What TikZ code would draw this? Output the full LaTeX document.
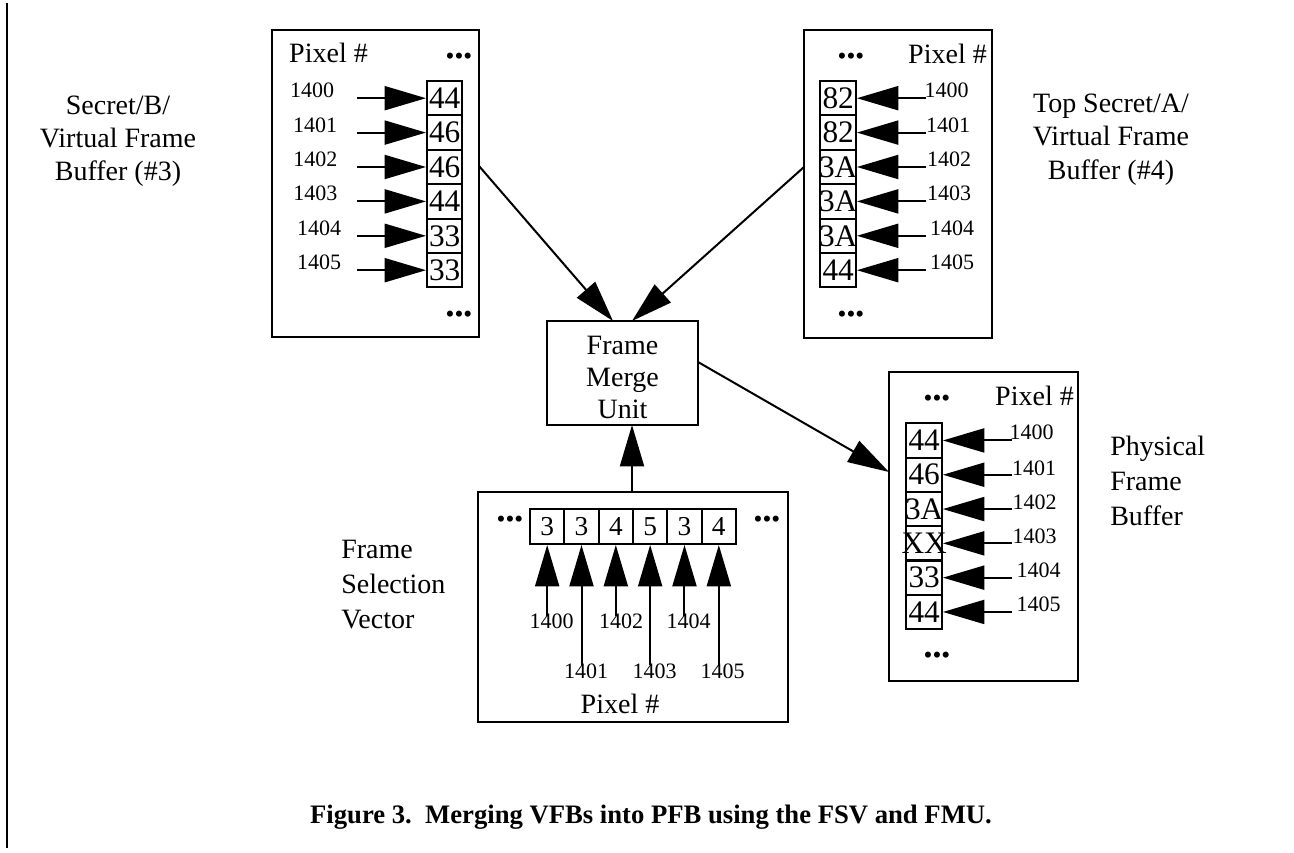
\documentclass[tikz,border=0pt]{standalone}
\usepackage{fontspec}
\setmainfont{Liberation Serif}
\usetikzlibrary{arrows.meta}
\begin{document}
\begin{tikzpicture}[x=0.75pt,y=-0.75pt,
  box/.style={draw,line width=1.5pt,inner sep=0},
  cell/.style={draw,line width=1.5pt,minimum width=26.6pt,minimum height=25.8pt,inner sep=0,font=\fontsize{23.5}{23.5}\selectfont},
  fcell/.style={draw,line width=1.5pt,minimum width=25.75pt,minimum height=26.25pt,inner sep=0,font=\fontsize{20.5}{20.5}\selectfont},
  big/.style={line width=1.5pt,-{Triangle[length=31pt,width=18pt]}},
  num/.style={inner sep=0,font=\fontsize{16.5}{16.5}\selectfont},
  lbl/.style={inner sep=0,font=\fontsize{21}{25}\selectfont,align=center},
  lbll/.style={inner sep=0,font=\fontsize{21}{26.25}\selectfont,align=left},
  txt/.style={inner sep=0,font=\fontsize{21}{21}\selectfont},
  dots/.style={inner sep=0,font=\fontsize{19}{19}\selectfont},
  rule/.style={line width=1.5pt}
]
\useasboundingbox (0,0) rectangle (1294,852);
% left rule
\coordinate (rt) at (7,3);
\coordinate (rb) at (7,848);
\draw[rule] (rt) -- (rb);

% boxes
\node[box,minimum width=155.25pt,minimum height=230.25pt] (vfb3) at (375.5,183.5) {};
\node[box,minimum width=141pt,minimum height=231pt] (vfb4) at (898,184) {};
\node[box,minimum width=113.25pt,minimum height=78pt] (fmu) at (622.5,373) {};
\node[box,minimum width=141.75pt,minimum height=231.75pt] (pfb) at (983.5,526.5) {};
\node[box,minimum width=232.5pt,minimum height=172.5pt] (fsv) at (633,607) {};

% side labels
\node[lbl,anchor=north] (l3) at (118,95.5) {Secret/B/\\Virtual Frame\\Buffer (\#3)};
\node[lbl,anchor=north] (l4) at (1111,93.6) {Top Secret/A/\\Virtual Frame\\Buffer (\#4)};
\node[lbll,anchor=north west] (lp) at (1110,436) {Physical\\Frame\\Buffer};
\node[lbll,anchor=north west] (lf) at (341,539.5) {Frame\\Selection\\Vector};
\node[lbl,anchor=north,font=\fontsize{21}{24}\selectfont] (lm) at (622.5,335.5) {Frame\\Merge\\Unit};

% Pixel # headers and dots
\node[txt,anchor=base] (p3) at (328.5,63) {Pixel \#};
\node[txt,anchor=base] (p4) at (947.5,64) {Pixel \#};
\node[txt,anchor=base] (pp) at (1034.5,405) {Pixel \#};
\node[txt,anchor=base] (pf) at (620,713.5) {Pixel \#};
\node[dots] (d3t) at (459,59) {•••};
\node[dots] (d3b) at (459,317) {•••};
\node[dots] (d4t) at (851,59) {•••};
\node[dots] (d4b) at (851,317) {•••};
\node[dots] (dpt) at (937,401) {•••};
\node[dots] (dpb) at (937,658) {•••};
\node[dots] (dfl) at (510,522) {•••};
\node[dots] (dfr) at (767,522) {•••};

% VFB #3 cells
\foreach \v [count=\i] in {44,46,46,44,33,33} {
  \node[cell] (a\i) at (444.7,{81+34.4*(\i-0.5)}) {\makebox[0pt]{\v}};
  \coordinate (as\i) at (357,{81+34.4*(\i-0.5)});
  \draw[big] (as\i) -- (a\i.west);
}
\foreach \t/\lx/\ly in {1400/312/90,1401/315/125,1402/315.3/159.7,1403/315.3/193.3,1404/319/228.3,1405/319/262} {
  \node[num] (an\t) at (\lx,\ly) {\t};
}

% VFB #4 cells
\foreach \v [count=\i] in {82,82,3A,3A,3A,44} {
  \node[cell] (b\i) at (838.2,{81+34.4*(\i-0.5)}) {\makebox[0pt]{\v}};
  \coordinate (bs\i) at (926,{81+34.4*(\i-0.5)});
  \draw[big] (bs\i) -- (b\i.east);
}
\foreach \t/\lx/\ly in {1400/946.5/90,1401/948/125,1402/949/159.5,1403/949/193,1404/952/228,1405/952/262} {
  \node[num] (bn\t) at (\lx,\ly) {\t};
}

% PFB cells
\foreach \v [count=\i] in {44,46,3A,XX,33,44} {
  \node[cell] (c\i) at (924.2,{423.3+34.3*(\i-0.5)}) {\makebox[0pt]{\v}};
  \coordinate (cs\i) at (1012,{423.3+34.3*(\i-0.5)});
  \draw[big] (cs\i) -- (c\i.east);
}
\foreach \t/\lx/\ly in {1400/1031.7/432,1401/1034/468,1402/1034.5/502,1403/1034.5/536,1404/1038.5/570.5,1405/1038.5/604.5} {
  \node[num] (cn\t) at (\lx,\ly) {\t};
}

% FSV cells
\foreach \v [count=\i] in {3,3,4,5,3,4} {
  \node[fcell] (f\i) at ({530+34.33*(\i-0.5)},526.5) {\makebox[0pt]{\v}};
}
\foreach \i/\sy in {1/616,2/665,3/616,4/665,5/616,6/665} {
  \coordinate (fs\i) at ({530+34.33*(\i-0.5)},\sy);
  \draw[big] (fs\i) -- (f\i.south);
}
\foreach \t/\lx/\ly in {1400/551.5/621,1402/621/621,1404/688.7/621,1401/586/671,1403/654.7/671,1405/722.5/671} {
  \node[num] (fn\t) at (\lx,\ly) {\t};
}

% connectors between units
\coordinate (s3) at (479,166);
\coordinate (t3) at (613,321);
\coordinate (s4) at (804,167);
\coordinate (t4) at (632,321);
\coordinate (sm) at (698,362);
\coordinate (tp) at (889,472);
\coordinate (sf) at (632,492);
\coordinate (tf) at (632,425);
\draw[big] (s3) -- (t3);
\draw[big] (s4) -- (t4);
\draw[big] (sm) -- (tp);
\draw[big] (sf) -- (tf);

% caption
\node[inner sep=0,anchor=base,font=\fontsize{20}{20}\selectfont\bfseries] (cap) at (651,823) {Figure 3.\ \ Merging VFBs into PFB using the FSV and FMU.};
\end{tikzpicture}
\end{document}
